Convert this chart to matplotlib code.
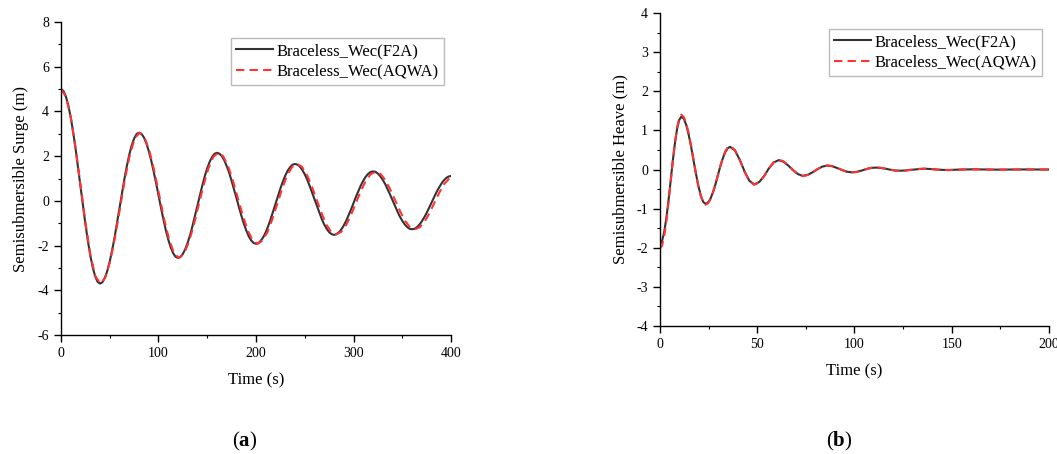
import matplotlib
matplotlib.use("Agg")
import numpy as np
import matplotlib.pyplot as plt
from matplotlib.ticker import MultipleLocator, AutoMinorLocator

plt.rcParams['font.family'] = ['Liberation Serif', 'DejaVu Serif']
plt.rcParams['mathtext.fontset'] = 'custom'
plt.rcParams['mathtext.rm'] = 'Liberation Serif'
plt.rcParams['mathtext.bf'] = 'Liberation Serif:bold'
plt.rcParams['axes.unicode_minus'] = False

# (a) surge decay, every 2.5 s
surge_time = np.arange(0, 402.5, 2.5)
surge_f2a = [5.0, 4.92, 4.67, 4.27, 3.73, 3.07, 2.32, 1.50, 0.65, -0.20, -1.02, -1.77, -2.43, -2.97, -3.37, -3.62, -3.7,
             -3.64, -3.44, -3.13, -2.71, -2.20, -1.62, -0.98, -0.33, 0.33, 0.97, 1.55, 2.06, 2.48, 2.79, 2.99, 3.05,
             3.00, 2.84, 2.58, 2.23, 1.81, 1.32, 0.80, 0.25, -0.30, -0.82, -1.31, -1.73, -2.08, -2.34, -2.50, -2.55,
             -2.51, -2.37, -2.15, -1.86, -1.51, -1.10, -0.66, -0.20, 0.26, 0.70, 1.11, 1.46, 1.75, 1.97, 2.11, 2.15,
             2.11, 2.00, 1.81, 1.55, 1.25, 0.89, 0.51, 0.12, -0.28, -0.66, -1.02, -1.32, -1.58, -1.77, -1.88, -1.92,
             -1.89, -1.78, -1.62, -1.40, -1.13, -0.82, -0.48, -0.14, 0.21, 0.55, 0.86, 1.13, 1.35, 1.51, 1.62, 1.65,
             1.62, 1.53, 1.38, 1.19, 0.95, 0.67, 0.37, 0.07, -0.24, -0.54, -0.82, -1.06, -1.25, -1.40, -1.49, -1.52,
             -1.49, -1.41, -1.28, -1.10, -0.89, -0.64, -0.38, -0.10, 0.18, 0.44, 0.69, 0.90, 1.08, 1.21, 1.29, 1.32,
             1.30, 1.22, 1.10, 0.94, 0.75, 0.52, 0.28, 0.03, -0.23, -0.47, -0.70, -0.89, -1.05, -1.17, -1.25, -1.27,
             -1.25, -1.18, -1.07, -0.92, -0.74, -0.54, -0.31, -0.08, 0.15, 0.38, 0.58, 0.76, 0.91, 1.02, 1.09, 1.11]
# AQWA runs a touch slower, so its samples sit slightly later in time
surge_aqwa_time = [0, 5.0, 10.1, 15.1, 20.2, 25.2, 30.2, 35.3, 40.3, 45.4, 50.4, 55.4, 60.5, 65.5,
                   70.6, 75.6, 80.6, 85.7, 90.7, 95.8, 100.8, 105.8, 110.9, 115.9, 121.0, 126.0,
                   131.0, 136.1, 141.1, 146.2, 151.2, 156.2, 161.3, 166.3, 171.4, 176.4, 181.4,
                   186.5, 191.5, 196.6, 201.6, 206.6, 211.7, 216.7, 221.8, 226.8, 231.8, 236.9,
                   241.9, 247.0, 252.0, 257.0, 262.1, 267.1, 272.2, 277.2, 282.2, 287.3, 292.3,
                   297.4, 302.4, 307.4, 312.5, 317.5, 322.6, 327.6, 332.6, 337.7, 342.7, 347.8,
                   352.8, 357.8, 362.9, 367.9, 373.0, 378.0, 383.0, 388.1, 393.1, 398.2, 403.2]
surge_aqwa = [5.0, 4.67, 3.73, 2.31, 0.65, -1.01, -2.43, -3.37, -3.7,
              -3.44, -2.71, -1.62, -0.33, 0.97, 2.06, 2.79, 3.05,
              2.84, 2.23, 1.32, 0.25, -0.82, -1.73, -2.34, -2.55,
              -2.37, -1.86, -1.10, -0.20, 0.70, 1.46, 1.97, 2.15,
              2.00, 1.55, 0.89, 0.12, -0.66, -1.32, -1.77, -1.92,
              -1.78, -1.40, -0.82, -0.14, 0.55, 1.13, 1.51, 1.65,
              1.53, 1.19, 0.67, 0.07, -0.54, -1.06, -1.40, -1.50,
              -1.39, -1.09, -0.63, -0.10, 0.43, 0.89, 1.19, 1.30,
              1.21, 0.93, 0.51, 0.03, -0.47, -0.89, -1.17, -1.27,
              -1.18, -0.92, -0.54, -0.08, 0.38, 0.76, 1.00, 1.08]

# (b) heave decay
heave_time = [0, 1.1, 2.2, 3.3, 4.4, 5.5, 6.6, 7.7, 8.8, 9.9, 11,
              12.25, 13.5, 14.75, 16, 17.25, 18.5, 19.75, 21, 22.25, 23.5,
              24.75, 26, 27.25, 28.5, 29.75, 31, 32.25, 33.5, 34.75, 36,
              38.5, 41, 43.5, 46, 48.5,
              51, 53.5, 56, 58.5, 61,
              63.5, 66, 68.5, 71, 73.5,
              76, 78.5, 81, 83.5, 86,
              88.5, 91, 93.5, 96, 98.5,
              101, 103.5, 106, 108.5, 111,
              113.5, 116, 118.5, 121, 123.5,
              126, 128.5, 131, 133.5, 136,
              138.5, 141, 143.5, 146, 148.5,
              155, 161, 173, 186, 200]
heave_f2a = [-1.90, -1.82, -1.59, -1.23, -0.78, -0.28, 0.23, 0.68, 1.04, 1.27, 1.35,
             1.30, 1.14, 0.89, 0.58, 0.235, -0.11, -0.42, -0.67, -0.83, -0.88,
             -0.84, -0.74, -0.58, -0.38, -0.15, 0.08, 0.28, 0.44, 0.54, 0.58,
             0.49, 0.25, -0.05, -0.29, -0.38,
             -0.32, -0.17, 0.03, 0.18, 0.24,
             0.20, 0.10, -0.02, -0.12, -0.16,
             -0.135, -0.07, 0.01, 0.075, 0.10,
             0.085, 0.04, -0.01, -0.055, -0.07,
             -0.06, -0.03, 0.01, 0.04, 0.05,
             0.04, 0.02, -0.005, -0.025, -0.03,
             -0.025, -0.01, 0.0, 0.015, 0.02,
             0.015, 0.005, -0.005, -0.01, -0.012,
             0.0, 0.005, -0.003, 0.002, 0.0]
heave_aqwa = [-2.02, -1.94, -1.69, -1.32, -0.84, -0.31, 0.22, 0.70, 1.07, 1.31, 1.40,
              1.34, 1.18, 0.93, 0.61, 0.25, -0.11, -0.43, -0.68, -0.84, -0.90,
              -0.86, -0.76, -0.59, -0.38, -0.15, 0.08, 0.29, 0.46, 0.56, 0.60,
              0.50, 0.25, -0.06, -0.30, -0.39,
              -0.33, -0.17, 0.03, 0.19, 0.25,
              0.21, 0.10, -0.02, -0.13, -0.17,
              -0.14, -0.07, 0.01, 0.08, 0.105,
              0.09, 0.04, -0.01, -0.06, -0.075,
              -0.065, -0.03, 0.01, 0.045, 0.055,
              0.045, 0.02, -0.005, -0.03, -0.035,
              -0.03, -0.01, 0.0, 0.015, 0.02,
              0.015, 0.005, -0.005, -0.012, -0.014,
              0.0, 0.005, -0.003, 0.002, 0.0]

labels = ['Braceless_Wec(F2A)', 'Braceless_Wec(AQWA)']


def style_axes(ax, xmax, xmajor, ymin, ymax, ymajor, ylabel):
    ax.set_xlim(0, xmax)
    ax.set_ylim(ymin, ymax)
    ax.xaxis.set_major_locator(MultipleLocator(xmajor))
    ax.yaxis.set_major_locator(MultipleLocator(ymajor))
    ax.xaxis.set_minor_locator(AutoMinorLocator(2))
    ax.yaxis.set_minor_locator(AutoMinorLocator(2))
    ax.spines['top'].set_visible(False)
    ax.spines['right'].set_visible(False)
    for s in ('left', 'bottom'):
        ax.spines[s].set_linewidth(1.0)
    ax.tick_params(which='major', direction='out', length=5, width=1.0, labelsize=10)
    ax.tick_params(which='minor', direction='out', length=2.5, width=0.8)
    ax.set_xlabel('Time (s)', fontsize=12, labelpad=9)
    ax.set_ylabel(ylabel, fontsize=12, labelpad=6)
    ax.legend(loc='upper right', bbox_to_anchor=(0.982, 0.949), borderaxespad=0,
              fontsize=12, frameon=True, fancybox=False, edgecolor='#aaaaaa',
              handlelength=2.2, handletextpad=0.25, borderpad=0.3, labelspacing=0.28)


fig = plt.figure(figsize=(10.57, 4.54), dpi=100)

ax1 = fig.add_axes([0.0577, 0.2621, 0.369, 0.6894])
ax1.plot(surge_time, surge_f2a, color='#333333', lw=1.5, label=labels[0])
ax1.plot(surge_aqwa_time, surge_aqwa, color='#ff3333', lw=1.5, ls=(0, (4, 2.5)), label=labels[1])
style_axes(ax1, 400, 100, -6, 8, 2, 'Semisubmersible Surge (m)')

ax2 = fig.add_axes([0.6244, 0.2819, 0.368, 0.6894])
ax2.plot(heave_time, heave_f2a, color='#333333', lw=1.5, label=labels[0])
ax2.plot(heave_time, heave_aqwa, color='#ff3333', lw=1.5, ls=(0, (4, 2.5)), label=labels[1])
style_axes(ax2, 200, 50, -4, 4, 1, 'Semisubmersible Heave (m)')

fig.text(245 / 1057, 1 - 441 / 454, r'($\mathbf{a}$)', fontsize=15, ha='center', va='center')
fig.text(839 / 1057, 1 - 441 / 454, r'($\mathbf{b}$)', fontsize=15, ha='center', va='center')

fig.savefig('out.png', dpi=100)
